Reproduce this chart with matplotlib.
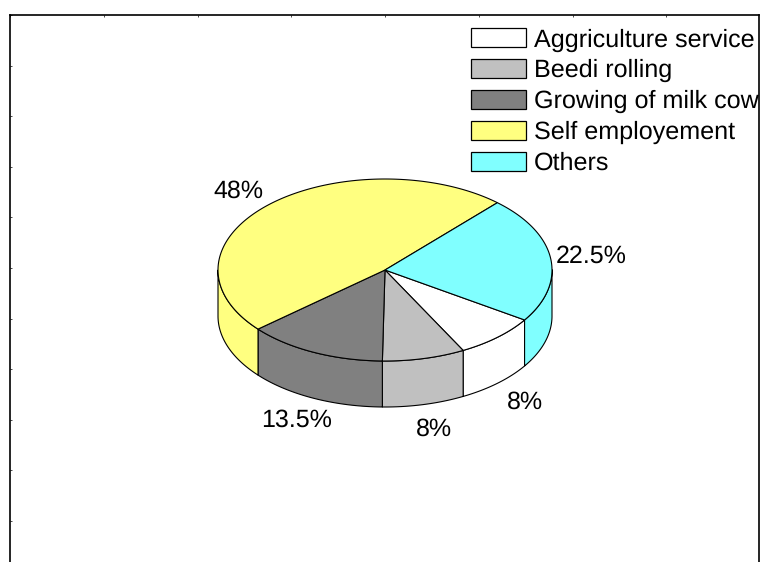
"""Tilted pie chart of occupation shares, drawn on a pixel-scaled axes."""

import numpy as np
import matplotlib
matplotlib.use("Agg")
import matplotlib.pyplot as plt
from matplotlib.patches import Patch, Polygon

plt.rcParams["font.family"] = ["Liberation Sans", "DejaVu Sans"]
plt.rcParams["text.hinting"] = "no_hinting"

categories = ["Aggriculture service", "Beedi rolling", "Growing of milk cow",
              "Self employement", "Others"]
shares = [8, 8, 13.5, 48, 22.5]
share_labels = ["8%", "8%", "13.5%", "48%", "22.5%"]
colors = ["#FFFFFF", "#C0C0C0", "#808080", "#FFFF80", "#80FFFF"]

# pie geometry in pixels
CX, CY = 385, 270
RX, RY = 167, 91
DEPTH = 46
START = -33.3

label_pos = [(525, 402), (434, 429), (297, 420), (238, 191), (591, 256)]

fig = plt.figure(figsize=(7.6, 5.62), dpi=100)
ax = fig.add_axes([10 / 760, 0, 749 / 760, 547 / 562])
ax.set_xlim(10, 759)
ax.set_ylim(562, 15)

ax.spines["bottom"].set_visible(False)
for side in ["top", "left", "right"]:
    ax.spines[side].set_linewidth(1.2)
ax.set_xticks(np.arange(10, 760, 93.75))
ax.set_yticks(np.arange(15, 562, 50.6))
ax.tick_params(top=True, bottom=False, left=True, right=False, direction="in",
               length=1.5, width=0.5, labelleft=False, labelbottom=False)


def arc(t):
    return np.column_stack([CX + RX * np.cos(t), CY - RY * np.sin(t)])


# walls first, then the top surface over them
angle = START
wedges = []
for value, color in zip(shares, colors):
    sweep = value / sum(shares) * 360
    t = np.radians(np.linspace(angle, angle - sweep, 240))
    wedges.append((t, color))
    angle -= sweep

for t, color in wedges:
    front = t[np.sin(t) <= 0.005]
    if len(front) < 2:
        continue
    upper = arc(front)
    lower = upper[::-1] + [0, DEPTH]
    ax.add_patch(Polygon(np.vstack([upper, lower]), closed=True, facecolor=color,
                         edgecolor="black", linewidth=0.8, joinstyle="round"))

for t, color in wedges:
    pts = np.vstack([[CX, CY], arc(t)])
    ax.add_patch(Polygon(pts, closed=True, facecolor=color,
                         edgecolor="black", linewidth=0.8, joinstyle="round"))

for text, (x, y) in zip(share_labels, label_pos):
    ax.text(x, y, text, fontsize=18, ha="center", va="center", color="black")

handles = [Patch(facecolor=c, edgecolor="black", linewidth=0.9) for c in colors]
ax.legend(handles, categories, loc="upper left", bbox_to_anchor=(471, 28),
          bbox_transform=ax.transData, frameon=False, fontsize=18.1, borderpad=0,
          borderaxespad=0, handlelength=2.2, handleheight=0.8, handletextpad=0.3,
          labelspacing=0.295)

fig.savefig("out.png", dpi=100)
